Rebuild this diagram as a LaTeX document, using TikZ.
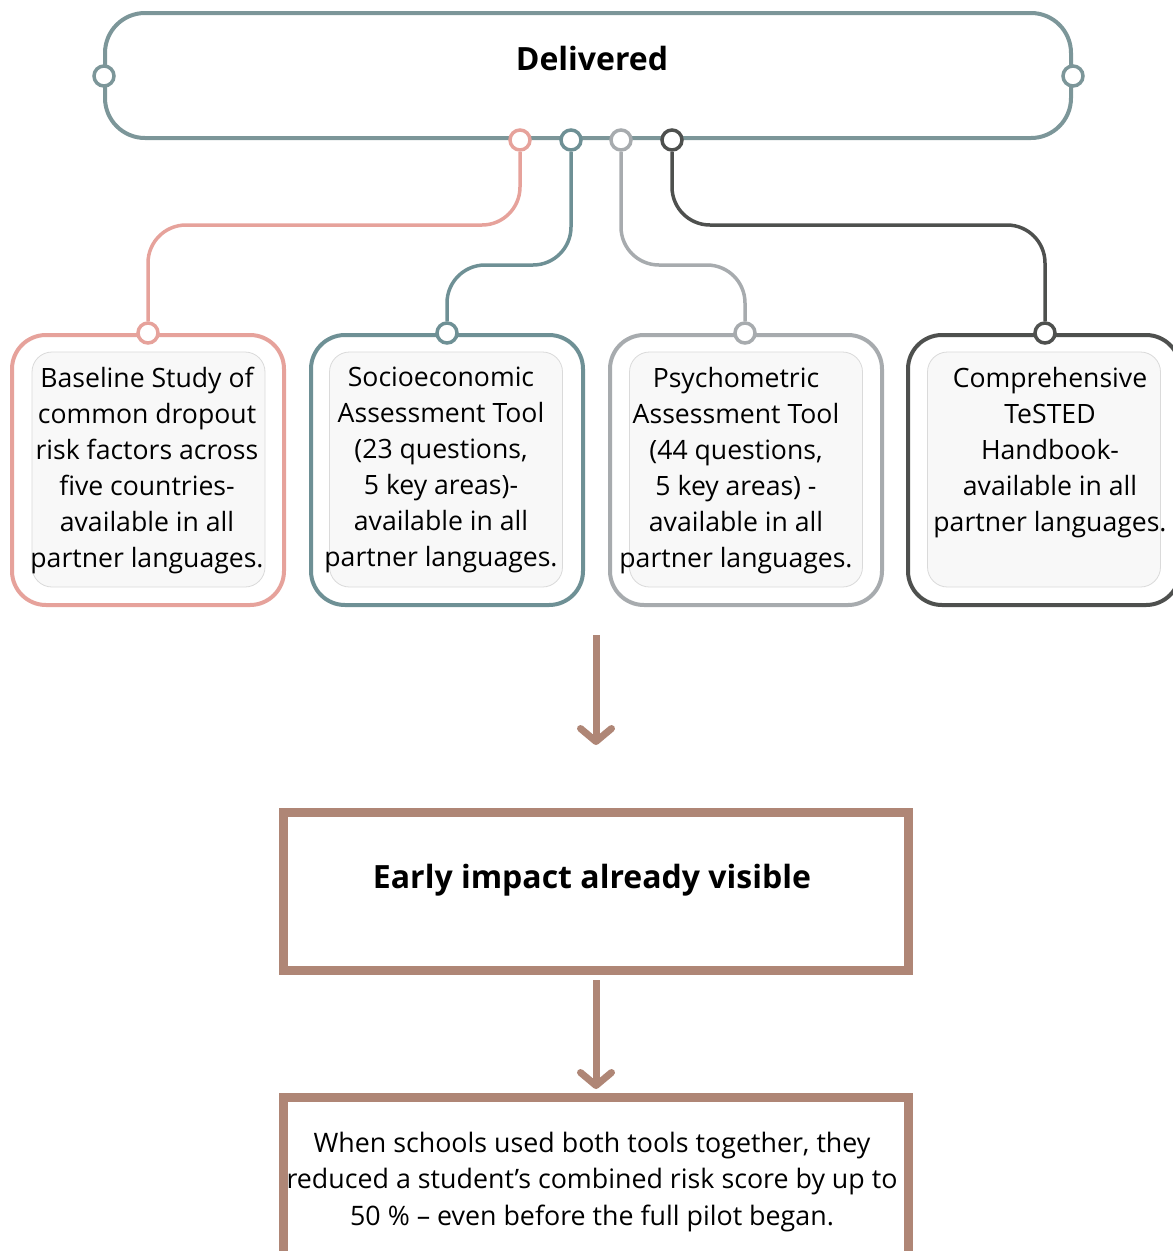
\documentclass[tikz,border=0pt]{standalone}
\usepackage{fontspec}
\setmainfont{Open Sans}
\usetikzlibrary{arrows.meta}
\definecolor{cpink}{HTML}{E6A29B}
\definecolor{cteal}{HTML}{6E9095}
\definecolor{cgrey}{HTML}{A7ABAE}
\definecolor{cdark}{HTML}{4E504E}
\definecolor{ctop}{HTML}{7C9699}
\definecolor{cbrown}{HTML}{AF8676}
\definecolor{cinner}{HTML}{F8F8F8}
\definecolor{cinnerline}{HTML}{DADADA}
\begin{document}
\begin{tikzpicture}[x=1pt,y=-1pt,
  dot/.style={circle,line width=3.5pt,minimum size=20pt,inner sep=0pt,fill=white},
  conn/.style={line width=3.5pt,rounded corners=38pt},
  outerbox/.style={rectangle,line width=4pt,rounded corners=34pt,minimum width=272pt,minimum height=270pt,fill=white},
  innerbox/.style={rectangle,draw=cinnerline,line width=0.8pt,fill=cinner,rounded corners=20pt,minimum width=233pt,minimum height=235pt},
  boxtext/.style={anchor=north,inner sep=0pt,align=center,font=\fontsize{26.6}{36}\selectfont},
  boldtext/.style={inner sep=0pt,font=\fontsize{32}{38}\selectfont\bfseries},
  brownbox/.style={rectangle,draw=cbrown,line width=9pt,fill=white},
  arr/.style={draw=cbrown,line width=7pt,-{Straight Barb[length=13pt,width=31pt,round]}}
]
\useasboundingbox (0,0) rectangle (1173,1251);

% top box
\node[rectangle,draw=ctop,line width=4pt,rounded corners=40pt,minimum width=966pt,minimum height=125pt] (delivered) at (588,75.5) {};
\node[boldtext] (deltext) at (592,58) {Delivered};
\node[dot,draw=ctop] (dl) at (104,76) {};
\node[dot,draw=ctop] (dr) at (1073,76) {};

% lower boxes
\node[outerbox,draw=cpink] (b1) at (148,470) {};
\node[outerbox,draw=cteal] (b2) at (447,470) {};
\node[outerbox,draw=cgrey] (b3) at (746,470) {};
\node[outerbox,draw=cdark] (b4) at (1044,470) {};
\node[innerbox] (i1) at (148.5,469.5) {};
\node[innerbox] (i2) at (446,469.5) {};
\node[innerbox] (i3) at (746,469.5) {};
\node[innerbox] (i4) at (1044,469.5) {};
\node[boxtext] (t1) at (147,367) {Baseline Study of\\common dropout\\risk factors across\\five countries-\\available in all\\partner languages.};
\node[boxtext] (t2) at (441,367) {Socioeconomic\\Assessment Tool\\(23 questions,\\5 key areas)-\\available in all\\partner languages.};
\node[boxtext] (t3) at (736,367) {Psychometric\\Assessment Tool\\(44 questions,\\5 key areas) -\\available in all\\partner languages.};
\node[boxtext] (t4) at (1050,367) {Comprehensive\\TeSTED\\Handbook-\\available in all\\partner languages.};

% dots
\node[dot,draw=cpink] (p1) at (520,140) {};
\node[dot,draw=cteal] (p2) at (571,140) {};
\node[dot,draw=cgrey] (p3) at (621,140) {};
\node[dot,draw=cdark] (p4) at (672,140) {};
\node[dot,draw=cpink] (q1) at (148,333) {};
\node[dot,draw=cteal] (q2) at (447,333) {};
\node[dot,draw=cgrey] (q3) at (745,333) {};
\node[dot,draw=cdark] (q4) at (1045,333) {};

% connectors
\coordinate (m1) at (0,225);
\coordinate (m2) at (0,265);
\coordinate (m3) at (0,265);
\coordinate (m4) at (0,225);
\draw[conn,cpink] (p1.south) -- (p1.south |- m1) -- (q1.north |- m1) -- (q1.north);
\draw[conn,cteal] (p2.south) -- (p2.south |- m2) -- (q2.north |- m2) -- (q2.north);
\draw[conn,cgrey] (p3.south) -- (p3.south |- m3) -- (q3.north |- m3) -- (q3.north);
\draw[conn,cdark] (p4.south) -- (p4.south |- m4) -- (q4.north |- m4) -- (q4.north);

% brown boxes
\node[brownbox,minimum width=625pt,minimum height=158pt] (early) at (596,891.5) {};
\node[boldtext] (earlytext) at (592,880) {Early impact already visible};
\node[brownbox,minimum width=625pt,minimum height=250pt] (result) at (596,1222.5) {};
\node[inner sep=0pt,align=center,font=\fontsize{26.8}{36.5}\selectfont] (resulttext) at (592,1182) {When schools used both tools together, they\\reduced a student’s combined risk score by up to\\50 \% – even before the full pilot began.};

% arrows
\coordinate (a1s) at (596,635);
\coordinate (a1e) at (596,745);
\draw[arr] (a1s) -- (a1e);
\draw[arr] ([yshift=-5pt]early.south) -- ([yshift=4pt]result.north);
\end{tikzpicture}
\end{document}
